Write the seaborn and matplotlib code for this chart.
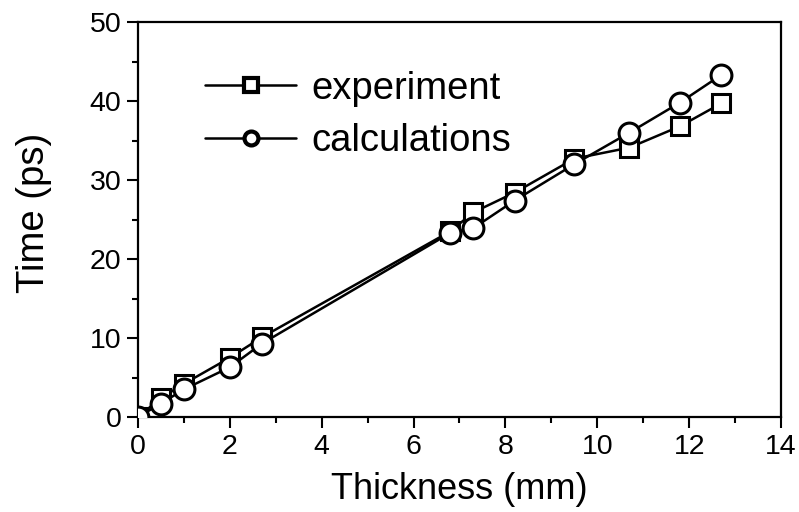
import matplotlib
matplotlib.use("Agg")
import matplotlib.pyplot as plt
import seaborn as sns
import numpy as np
import pandas as pd
from matplotlib.ticker import MultipleLocator

thickness = [0.0, 0.5, 1.0, 2.0, 2.7, 6.8, 7.3, 8.2, 9.5, 10.7, 11.8, 12.7]
experiment = [0.0, 2.4, 4.2, 7.5, 10.1, 23.5, 25.9, 28.4, 32.7, 34.1, 36.8, 39.7]
calculations = [0.0, 1.7, 3.5, 6.3, 9.3, 23.3, 23.9, 27.4, 32.0, 36.0, 39.8, 43.3]
x_ticks = [0, 2, 4, 6, 8, 10, 12, 14]
y_ticks = [0, 10, 20, 30, 40, 50]

sns.set_style("ticks")
plt.rcParams['font.family'] = ['Liberation Sans', 'DejaVu Sans']
plt.rcParams['text.color'] = 'black'
plt.rcParams['axes.labelcolor'] = 'black'

fig = plt.figure(figsize=(7.99, 5.12), dpi=100)
ax = fig.add_axes([138/799, (512-417)/512, (781-138)/799, (417-22)/512])

df = pd.DataFrame({"thickness": thickness, "experiment": experiment, "calculations": calculations})

sns.lineplot(data=df, x="thickness", y="experiment", ax=ax, color="black", linewidth=1.8,
             marker="s", markersize=12.5, markerfacecolor="white", markeredgecolor="black",
             markeredgewidth=2.2, label="experiment", zorder=3)
sns.lineplot(data=df, x="thickness", y="calculations", ax=ax, color="black", linewidth=1.8,
             marker="o", markersize=15, markerfacecolor="white", markeredgecolor="black",
             markeredgewidth=2.2, label="calculations", zorder=4)

ax.set_xlim(0, 14)
ax.set_ylim(0, 50)
ax.set_xticks(x_ticks)
ax.set_yticks(y_ticks)
ax.xaxis.set_minor_locator(MultipleLocator(1))
ax.yaxis.set_minor_locator(MultipleLocator(5))
ax.tick_params(axis="both", which="major", direction="out", length=8, width=1.5,
               labelsize=20.5, pad=4, colors="black")
ax.tick_params(axis="both", which="minor", direction="out", length=4.5, width=1.5, colors="black")
for s in ax.spines.values():
    s.set_linewidth(1.6)
    s.set_color("black")

ax.set_xlabel("Thickness (mm)", fontsize=26)
ax.set_ylabel("Time (ps)", fontsize=27.5)
ax.xaxis.set_label_coords(0.5, -0.14)
ax.yaxis.set_label_coords(-0.134, 0.516)

leg = ax.legend(loc="upper left", bbox_to_anchor=(0.08, 0.915), frameon=False,
                fontsize=27.5, handlelength=2.4, handletextpad=0.4, labelspacing=0.43,
                borderaxespad=0)
for t in leg.get_texts():
    t.set_color("black")
for h in leg.legend_handles:
    h.set_markersize(10)
    h.set_markeredgewidth(3)

fig.savefig("out.png", dpi=100)
